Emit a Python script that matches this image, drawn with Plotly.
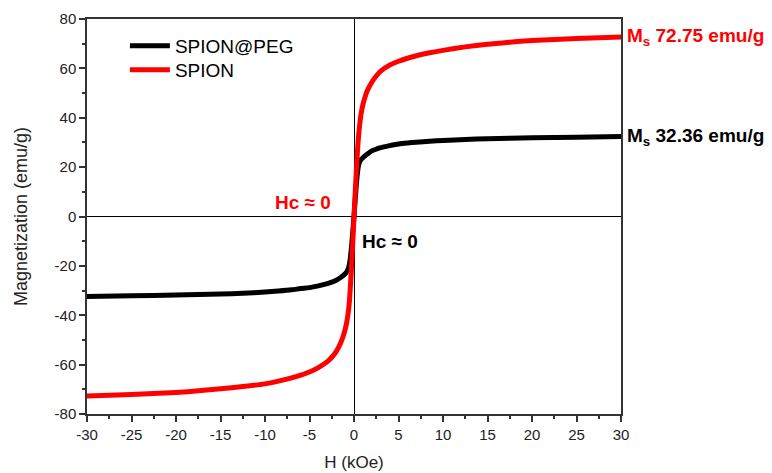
import plotly.graph_objects as go

# Field (kOe)
H = [-30, -25, -20, -17.5, -15, -12.5, -10, -8.5, -7, -6, -5, -4, -3, -2.5, -2, -1.5, -1.25, -1.0,
     -0.8, -0.7, -0.6, -0.5, -0.4, -0.3, -0.2, -0.1, 0,
     0.1, 0.2, 0.3, 0.4, 0.5, 0.6, 0.7, 0.8, 1.0, 1.25, 1.5, 2, 2.5, 3, 4, 5, 6, 7, 8.5, 10,
     12.5, 15, 17.5, 20, 25, 30]

# SPION (red)
M_spion = [-72.75, -72.1, -71.3, -70.6, -69.8, -68.9, -67.8, -66.7, -65.4, -64.3, -63, -61.2, -58.8, -57, -54.7, -51.2, -48.8, -45.8,
           -42.5, -40.3, -37.5, -33.5, -28, -22, -15, -7.5, 0,
           7, 14, 21, 27, 32, 35.8, 39, 41.7, 45.3, 48.5, 51, 54.4, 56.9, 58.9, 61.3, 62.9, 64.1, 65.1, 66.3, 67.3,
           68.7, 69.8, 70.6, 71.3, 72.1, 72.75]

# SPION@PEG (black)
M_peg = [-32.36, -32.1, -31.8, -31.6, -31.4, -31.1, -30.6, -30.2, -29.7, -29.2, -28.8, -28.1, -27.2, -26.6, -25.8, -24.7, -24, -23.2,
         -22.3, -21.6, -20.6, -19, -16.5, -13, -9, -4.5, 0,
         5, 10, 14.5, 18, 20.5, 21.8, 22.6, 23.1, 23.8, 24.6, 25.3, 26.6, 27.3, 27.9, 28.7, 29.4, 29.8, 30.1, 30.5, 30.8,
         31.2, 31.5, 31.7, 31.9, 32.1, 32.36]

series_names = ["SPION@PEG", "SPION"]

x_ticks = [-30, -25, -20, -15, -10, -5, 0, 5, 10, 15, 20, 25, 30]
y_ticks = [-80, -60, -40, -20, 0, 20, 40, 60, 80]

FONT = "Liberation Sans, Arial, sans-serif"

fig = go.Figure()
fig.add_trace(go.Scatter(x=H, y=M_peg, mode="lines", name=series_names[0], legend="legend",
                         line=dict(color="black", width=5, shape="spline", smoothing=0.6)))
fig.add_trace(go.Scatter(x=H, y=M_spion, mode="lines", name=series_names[1], legend="legend2",
                         line=dict(color="#ff0000", width=5, shape="spline", smoothing=0.6)))

axis_common = dict(
    showline=True, linecolor="#333333", linewidth=1.5, mirror=True,
    ticks="outside", ticklen=6, tickwidth=1.5, tickcolor="#333333",
    showgrid=False, zeroline=True, zerolinecolor="black", zerolinewidth=1,
    tickfont=dict(family=FONT, size=15, color="#222222"),
    automargin=False,
)

fig.update_xaxes(range=[-30, 30], tickmode="array", tickvals=x_ticks,
                 ticktext=[str(v) for v in x_ticks],
                 minor=dict(ticks="outside", ticklen=3, tickwidth=1.5, tickcolor="#333333",
                            tick0=-30, dtick=2.5),
                 title=dict(text="H (kOe)", font=dict(family=FONT, size=17, color="#222222"), standoff=14),
                 **axis_common)
fig.update_yaxes(range=[-80, 80], tickmode="array", tickvals=y_ticks,
                 ticktext=[str(v) for v in y_ticks],
                 minor=dict(ticks="outside", ticklen=3, tickwidth=1.5, tickcolor="#333333",
                            tick0=-80, dtick=10),
                 title=dict(text="Magnetization (emu/g)", font=dict(family=FONT, size=18, color="#222222"), standoff=22),
                 **axis_common)

fig.add_annotation(x=30, y=72.75, xref="x", yref="y", xanchor="left", xshift=4,
                   text="<b>M<sub>s</sub> 72.75 emu/g</b>", showarrow=False,
                   font=dict(family=FONT, size=19, color="#ff0000"))
fig.add_annotation(x=30, y=32.2, xref="x", yref="y", xanchor="left", xshift=4,
                   text="<b>M<sub>s</sub> 32.36 emu/g</b>", showarrow=False,
                   font=dict(family=FONT, size=19, color="black"))
fig.add_annotation(x=-5.7, y=5.7, xref="x", yref="y",
                   text="<b>Hc ≈ 0</b>", showarrow=False,
                   font=dict(family=FONT, size=19, color="#ff0000"))
fig.add_annotation(x=4.1, y=-10.2, xref="x", yref="y",
                   text="<b>Hc ≈ 0</b>", showarrow=False,
                   font=dict(family=FONT, size=19, color="black"))

legend_common = dict(xanchor="left", yanchor="middle", bgcolor="rgba(0,0,0,0)",
                     font=dict(family=FONT, size=19, color="black"), itemwidth=40)

fig.update_layout(
    width=772, height=473,
    margin=dict(l=87, r=151, t=19, b=59),
    paper_bgcolor="white", plot_bgcolor="white",
    showlegend=True,
    legend=dict(x=0.071, y=0.932, **legend_common),
    legend2=dict(x=0.071, y=0.871, **legend_common),
)

fig.write_html("out.html")
